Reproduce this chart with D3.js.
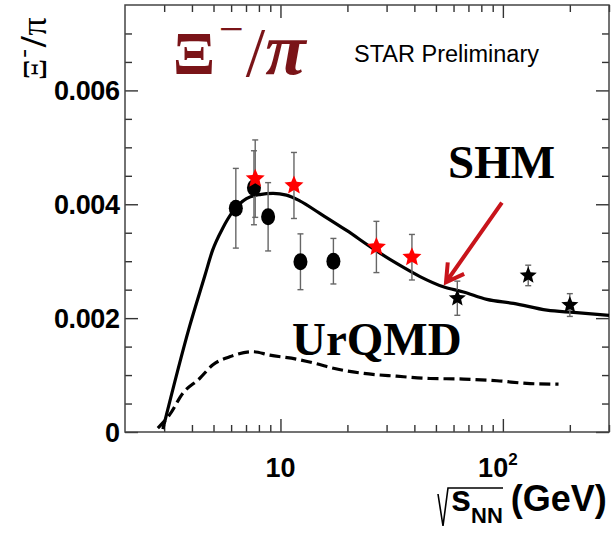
<!DOCTYPE html>
<html>
<head>
<meta charset="utf-8">
<script src="https://cdn.jsdelivr.net/npm/d3@7"></script>
<style>
  html, body { margin: 0; padding: 0; background: #fff; }
  svg { display: block; }
</style>
</head>
<body>
<svg id="chart" width="612" height="543"></svg>
<script>
// NA49 (SPS) points, black circles
const circEnergy = [6.3, 7.6, 8.8, 12.3, 17.3];
const circRatio = [0.00393, 0.00429, 0.00378, 0.00299, 0.00300];
const circErr = [0.0007, 0.00065, 0.0006, 0.00049, 0.0004];

// STAR BES, red stars
const redEnergy = [7.7, 11.5, 27, 39];
const redRatio = [0.00445, 0.00433, 0.00325, 0.00307];
const redErr = [0.00068, 0.00058, 0.00045, 0.0004];

// STAR top energies, black stars
const blackEnergy = [62.4, 130, 200];
const blackRatio = [0.00235, 0.00275, 0.00223];
const blackErr = [0.0003, 0.00018, 0.0002];

// statistical hadronization model curve
const shmEnergy = [2.96, 3.9, 4.56, 4.95, 5.5, 6.1, 7.03, 8.07, 9.26, 10.64, 12.21, 15.03,
  19.83, 26.1, 33.3, 42.4, 54.0, 66.5, 84.7, 111.6, 157.8, 208, 300];
const shmRatio = [0.00005, 0.00185, 0.00273, 0.00319, 0.00358, 0.00387, 0.0041, 0.00417,
  0.00419, 0.00416, 0.00406, 0.00384, 0.00354, 0.00322, 0.00296, 0.00273, 0.00255,
  0.00246, 0.00233, 0.00226, 0.00214, 0.0021, 0.00205];

// UrQMD curve (dashed)
const urqEnergy = [2.81, 3.17, 3.64, 4.33, 4.97, 5.91, 7.52, 8.95, 11.8, 14.5, 17.3, 23.6,
  33.3, 47.0, 66.5, 94.0, 132.7, 177.9];
const urqRatio = [0.00007, 0.0003, 0.00068, 0.00094, 0.00118, 0.00132, 0.00141, 0.00135,
  0.00128, 0.0012, 0.00112, 0.00103, 0.00098, 0.00094, 0.00093, 0.0009, 0.00085, 0.00084];

// ticks
const yMajor = [0, 0.002, 0.004, 0.006];
const yMinor = d3.range(0, 0.0075, 0.0005).filter(v => Math.abs(v / 0.002 - Math.round(v / 0.002)) > 1e-6);
const xMajor = [10, 100];
const xMinor = [3, 4, 5, 6, 7, 8, 9, 20, 30, 40, 50, 60, 70, 80, 90, 200, 300];
const yLabels = ['0', '0.002', '0.004', '0.006'];

// arrow pointing at SHM curve: [energy, ratio] tail then tip
const arrowTail = [99, 0.00403];
const arrowTip = [55.5, 0.00263];

const svg = d3.select('#chart');
const padL = 125, padR = 609, padT = 5, padB = 432;

const x = d3.scaleLog().domain([2, 300]).range([padL, padR]);
const y = d3.scaleLinear().domain([0, 0.0075]).range([padB, padT]);

const tickColor = '#333';

// ticks on all four sides, pointing inward
function tickAxis (axisFn, values, size, transform) {
  const g = svg.append('g')
    .attr('transform', transform)
    .call(axisFn.tickValues(values).tickSize(size).tickFormat(''));
  g.select('.domain').remove();
  g.selectAll('line').attr('stroke', tickColor).attr('stroke-width', 1.4);
}
tickAxis(d3.axisBottom(x), xMinor, -7, `translate(0,${padB})`);
tickAxis(d3.axisBottom(x), xMajor, -13, `translate(0,${padB})`);
tickAxis(d3.axisTop(x), xMinor, -7, `translate(0,${padT})`);
tickAxis(d3.axisTop(x), xMajor, -13, `translate(0,${padT})`);
tickAxis(d3.axisLeft(y), yMinor, -7, `translate(${padL},0)`);
tickAxis(d3.axisLeft(y), yMajor, -13, `translate(${padL},0)`);
tickAxis(d3.axisRight(y), yMinor, -7, `translate(${padR},0)`);
tickAxis(d3.axisRight(y), yMajor, -13, `translate(${padR},0)`);

// frame
svg.append('rect')
  .attr('x', padL).attr('y', padT)
  .attr('width', padR - padL).attr('height', padB - padT)
  .attr('fill', 'none').attr('stroke', '#444').attr('stroke-width', 1.5);

// tick labels
const labelFont = '"Liberation Sans", Arial, sans-serif';
svg.append('g').selectAll('text')
  .data(yMajor)
  .join('text')
  .attr('x', padL - 5)
  .attr('y', d => y(d) + 10)
  .attr('text-anchor', 'end')
  .attr('font-family', labelFont)
  .attr('font-weight', 'bold')
  .attr('font-size', 27)
  .attr('textLength', (d, i) => yLabels[i].length > 1 ? 66 : null)
  .text((d, i) => yLabels[i]);

const xl = svg.append('g')
  .attr('font-family', labelFont)
  .attr('font-weight', 'bold')
  .attr('font-size', 27);
xl.append('text')
  .attr('x', x(10)).attr('y', 477)
  .attr('text-anchor', 'middle')
  .text('10');
const hundred = xl.append('text')
  .attr('x', x(100) - 5).attr('y', 477)
  .attr('text-anchor', 'middle');
hundred.append('tspan').text('10');
hundred.append('tspan').attr('font-size', 17).attr('dy', -12).text('2');

// axis titles
const xt = svg.append('g');
xt.append('path')
  .attr('d', 'M438,494 L443,526 L448,488 L503,488')
  .attr('fill', 'none').attr('stroke', '#000').attr('stroke-width', 1.6);
const xtText = xt.append('text')
  .attr('x', 451).attr('y', 511)
  .attr('font-family', labelFont)
  .attr('font-weight', 'bold')
  .attr('font-size', 36);
xtText.append('tspan').text('s');
xtText.append('tspan').attr('font-size', 22).attr('dy', 12).text('NN');
xtText.append('tspan').attr('dy', -12).attr('dx', 8).text('(GeV)');

const yt = svg.append('text')
  .attr('transform', 'translate(46,80) rotate(-90)')
  .attr('font-family', '"Liberation Serif", "Times New Roman", serif')
  .attr('font-size', 33);
yt.append('tspan').text('Ξ');
yt.append('tspan').attr('font-size', 26).attr('dy', -15).attr('dx', 1).text('-');
yt.append('tspan').attr('dy', 15).attr('dx', 2).attr('font-weight', 'bold').attr('font-size', 38).text('/');
yt.append('tspan').attr('dx', 1).attr('font-size', 36).text('π');

// curves
const line = d3.line()
  .x(d => x(d[0]))
  .y(d => y(d[1]))
  .curve(d3.curveMonotoneX);

svg.append('path')
  .datum(d3.zip(urqEnergy, urqRatio))
  .attr('d', line)
  .attr('fill', 'none')
  .attr('stroke', '#000')
  .attr('stroke-width', 3.2)
  .attr('stroke-dasharray', '11,5');

svg.append('path')
  .datum(d3.zip(shmEnergy, shmRatio))
  .attr('d', line)
  .attr('fill', 'none')
  .attr('stroke', '#000')
  .attr('stroke-width', 3.2);

// error bars
function errorBars (energy, ratio, err) {
  const g = svg.append('g').attr('stroke', '#666').attr('stroke-width', 1.4);
  const pts = d3.zip(energy, ratio, err);
  g.selectAll('line.v').data(pts).join('line')
    .attr('x1', d => x(d[0])).attr('x2', d => x(d[0]))
    .attr('y1', d => y(d[1] + d[2])).attr('y2', d => y(d[1] - d[2]));
  g.selectAll('line.t').data(pts).join('line')
    .attr('x1', d => x(d[0]) - 3).attr('x2', d => x(d[0]) + 3)
    .attr('y1', d => y(d[1] + d[2])).attr('y2', d => y(d[1] + d[2]));
  g.selectAll('line.b').data(pts).join('line')
    .attr('x1', d => x(d[0]) - 3).attr('x2', d => x(d[0]) + 3)
    .attr('y1', d => y(d[1] - d[2])).attr('y2', d => y(d[1] - d[2]));
}
errorBars(circEnergy, circRatio, circErr);
errorBars(redEnergy, redRatio, redErr);
errorBars(blackEnergy, blackRatio, blackErr);

svg.append('g').selectAll('ellipse')
  .data(d3.zip(circEnergy, circRatio))
  .join('ellipse')
  .attr('cx', d => x(d[0])).attr('cy', d => y(d[1]))
  .attr('rx', 7).attr('ry', 8.5)
  .attr('fill', '#000');

// fat five-point star, like the ROOT marker
function fatStar (outer, inner) {
  const pts = d3.range(10).map(i => {
    const a = -Math.PI / 2 + i * Math.PI / 5;
    const r = i % 2 ? inner : outer;
    return [r * Math.cos(a), r * Math.sin(a)];
  });
  return 'M' + pts.join('L') + 'Z';
}

svg.append('g').selectAll('path')
  .data(d3.zip(redEnergy, redRatio))
  .join('path')
  .attr('transform', d => `translate(${x(d[0])},${y(d[1])})`)
  .attr('d', fatStar(10, 4.6))
  .attr('fill', '#ff0000');

svg.append('g').selectAll('path')
  .data(d3.zip(blackEnergy, blackRatio))
  .join('path')
  .attr('transform', d => `translate(${x(d[0])},${y(d[1])})`)
  .attr('d', fatStar(9, 4))
  .attr('fill', '#000');

// arrow to SHM
const ax0 = x(arrowTail[0]), ay0 = y(arrowTail[1]);
const ax1 = x(arrowTip[0]), ay1 = y(arrowTip[1]);
const ang = Math.atan2(ay0 - ay1, ax0 - ax1);
const head = 20, spread = Math.PI / 6;
svg.append('path')
  .attr('d', `M${ax0},${ay0} L${ax1},${ay1}` +
    ` M${ax1 + head * Math.cos(ang - spread)},${ay1 + head * Math.sin(ang - spread)}` +
    ` L${ax1},${ay1} L${ax1 + head * Math.cos(ang + spread)},${ay1 + head * Math.sin(ang + spread)}`)
  .attr('fill', 'none')
  .attr('stroke', '#c8141b')
  .attr('stroke-width', 4);

// annotations
const title = svg.append('text')
  .attr('x', 173).attr('y', 74)
  .attr('fill', '#7a1418')
  .attr('font-family', '"Liberation Serif", "Times New Roman", serif');
title.append('tspan').attr('font-size', 62).attr('font-weight', 'bold').text('Ξ');
title.append('tspan').attr('font-size', 44).attr('dy', -30).attr('dx', 4).text('−');
title.append('tspan').attr('font-size', 70).attr('dy', 32).attr('dx', 2).text('/');
title.append('tspan').attr('font-size', 74).attr('dy', -2).attr('font-weight', 'bold').attr('font-style', 'italic').text('π');

svg.append('text')
  .attr('x', 354).attr('y', 62)
  .attr('font-family', labelFont)
  .attr('font-size', 23.5)
  .text('STAR Preliminary');

const modelFont = '"Liberation Serif", "Times New Roman", serif';
svg.append('text')
  .attr('x', 448).attr('y', 178)
  .attr('font-family', modelFont)
  .attr('font-weight', 'bold')
  .attr('font-size', 47)
  .text('SHM');
svg.append('text')
  .attr('x', 292).attr('y', 355)
  .attr('font-family', modelFont)
  .attr('font-weight', 'bold')
  .attr('font-size', 47)
  .text('UrQMD');
</script>
</body>
</html>
